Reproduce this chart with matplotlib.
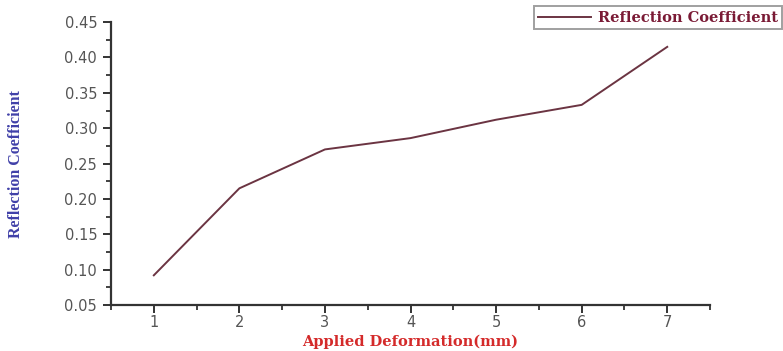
import matplotlib
matplotlib.use("Agg")
import matplotlib.pyplot as plt
from matplotlib.ticker import MultipleLocator, FormatStrFormatter

deformation = [1, 2, 3, 4, 5, 6, 7]
reflection = [0.092, 0.215, 0.270, 0.286, 0.312, 0.333, 0.415]
series_label = "Reflection Coefficient"
x_label = "Applied Deformation(mm)"
y_label = "Reflection Coefficient"

fig = plt.figure(figsize=(7.83, 3.51), dpi=100)
ax = fig.add_axes([0.1418, 0.131, 0.765, 0.806])
ax.plot(deformation, reflection, color="#6b3442", lw=1.4, label=series_label)
ax.set_xlim(0.5, 7.5)
ax.set_ylim(0.05, 0.45)
ax.xaxis.set_major_locator(MultipleLocator(1))
ax.xaxis.set_minor_locator(MultipleLocator(0.5))
ax.yaxis.set_major_locator(MultipleLocator(0.05))
ax.yaxis.set_minor_locator(MultipleLocator(0.025))
ax.yaxis.set_major_formatter(FormatStrFormatter("%.2f"))
for s in ["top", "right"]:
    ax.spines[s].set_visible(False)
for s in ["left", "bottom"]:
    ax.spines[s].set_linewidth(1.6)
    ax.spines[s].set_color("#333333")
ax.tick_params(which="major", direction="out", length=6, width=1.4, color="#333333",
               labelsize=10.5, labelcolor="#555555", pad=4)
ax.tick_params(axis="x", which="major", pad=1.5)
ax.tick_params(which="minor", direction="out", length=3.5, width=1.3, color="#333333")
for lab in ax.get_xticklabels() + ax.get_yticklabels():
    lab.set_family("DejaVu Sans")
ax.set_xlabel(x_label, family="DejaVu Serif", fontweight="bold", color="#d42a2a",
              fontsize=10.5)
ax.xaxis.set_label_coords(0.5, -0.105)
ax.set_ylabel(y_label, family="Liberation Serif", fontweight="bold", color="#4040a8",
              fontsize=11.5)
ax.yaxis.set_label_coords(-0.145, 0.5)
leg = ax.legend(loc="upper right", bbox_to_anchor=(0.999, 0.982), bbox_transform=fig.transFigure,
                borderaxespad=0, frameon=True, fancybox=False,
                handlelength=3.6, borderpad=0.3, handletextpad=0.5,
                prop={"family": "DejaVu Serif", "weight": "bold", "size": 10.5})
leg.get_frame().set_edgecolor("#888888")
leg.get_frame().set_linewidth(1.4)
for t in leg.get_texts():
    t.set_color("#7a1a35")
fig.savefig("out.png", dpi=100)
